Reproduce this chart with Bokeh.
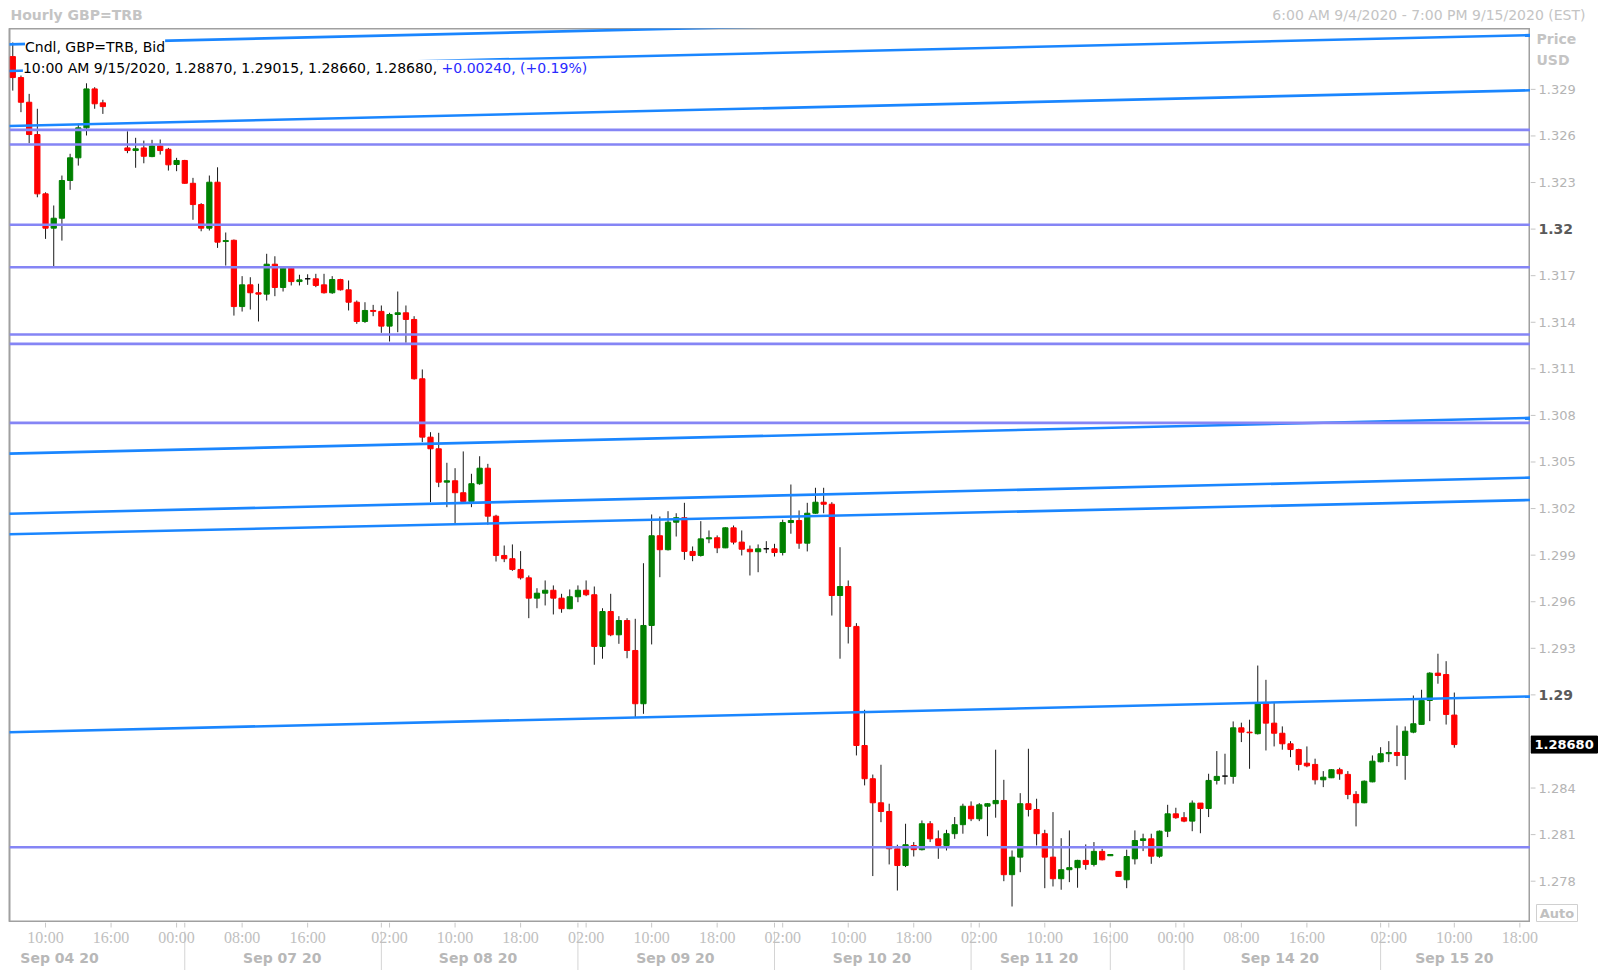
import numpy as np
from bokeh.plotting import figure
from bokeh.models import Range1d, Label, Span, ColumnDataSource
from bokeh.layouts import column, row
from bokeh.core.properties import value
from bokeh.embed import file_html
from bokeh.resources import INLINE

nan = float("nan")

# ---------------- hourly GBP=TRB candles (one entry per time slot; nan = empty slot) ----
opens = [1.33111, 1.32976, 1.32817, 1.32609, 1.32227, 1.32006, 1.32070, 1.32313, 1.32459, 1.32652,
         1.32903, 1.32813, nan, nan,
         1.32523, 1.32506, 1.32523, 1.32467, 1.32536, 1.32514, 1.32416, 1.32442, 1.32295, 1.32158,
         1.32006, 1.32302, 1.31920, 1.31928, 1.31501, 1.31641, 1.31590, 1.31581, 1.31774, 1.31624,
         1.31748, 1.31662, 1.31680, 1.31680, 1.31641, 1.31590, 1.31675, 1.31609, 1.31529, 1.31405,
         1.31476, 1.31470, 1.31375, 1.31450, 1.31461, 1.31418, 1.31036, 1.30660, 1.30585, 1.30370,
         1.30379, 1.30302, 1.30246, 1.30360, 1.30460, 1.30151, 1.29898, 1.29877, 1.29808, 1.29754,
         1.29623, 1.29655, 1.29674, 1.29623, 1.29555, 1.29632, 1.29674, 1.29645, 1.29312, 1.29537,
         1.29387, 1.29479, 1.29286, 1.28943, 1.29447, 1.30025, 1.29935, 1.30112, 1.30141, 1.29924,
         1.29898, 1.30005, 1.30012, 1.29947, 1.30076, 1.29984, 1.29938, 1.29922, 1.29941, 1.29941,
         1.29917, 1.30110, 1.30123, 1.29977, 1.30170, 1.30241, 1.30228, 1.29640, 1.29698, 1.29441,
         1.28674, 1.28460, 1.28305, 1.28249, 1.28009, 1.27901, 1.28030, 1.28003, 1.28170, 1.28073,
         1.28030, 1.28106, 1.28164, 1.28283, 1.28202, 1.28283, 1.28299, 1.28320, 1.27842, 1.27955,
         1.28299, 1.28262, 1.28106, 1.27955, 1.27816, 1.27874, 1.27887, 1.27934, 1.27908, 1.27992,
         1.27964, 1.27863, 1.27809, 1.27944, 1.28062, 1.28073, 1.27961, 1.28122, 1.28234, 1.28209,
         1.28187, 1.28303, 1.28268, 1.28449, 1.28477, 1.28475, 1.28788, 1.28760, 1.28750, 1.28943,
         1.28818, 1.28753, 1.28685, 1.28648, 1.28560, 1.28552, 1.28453, 1.28466, 1.28518, 1.28488,
         1.28359, 1.28305, 1.28440, 1.28569, 1.28621, 1.28629, 1.28610, 1.28760, 1.28810, 1.28964,
         1.29140, 1.29131, 1.28870]
highs = [1.33202, 1.32989, 1.32871, 1.32775, 1.32237, 1.32152, 1.32345, 1.32485, 1.32678, 1.32939,
         1.32914, 1.32833, nan, nan,
         1.32630, 1.32588, 1.32570, 1.32575, 1.32577, 1.32523, 1.32459, 1.32446, 1.32330, 1.32167,
         1.32345, 1.32398, 1.31978, 1.31933, 1.31697, 1.31690, 1.31648, 1.31841, 1.31825, 1.31761,
         1.31753, 1.31706, 1.31709, 1.31712, 1.31712, 1.31697, 1.31680, 1.31669, 1.31540, 1.31529,
         1.31512, 1.31508, 1.31461, 1.31598, 1.31508, 1.31439, 1.31096, 1.30692, 1.30688, 1.30495,
         1.30460, 1.30568, 1.30424, 1.30537, 1.30488, 1.30160, 1.29962, 1.29969, 1.29926, 1.29769,
         1.29687, 1.29737, 1.29705, 1.29651, 1.29679, 1.29705, 1.29737, 1.29698, 1.29558, 1.29651,
         1.29507, 1.29494, 1.29490, 1.29848, 1.30162, 1.30149, 1.30183, 1.30170, 1.30237, 1.29956,
         1.30119, 1.30059, 1.30027, 1.30080, 1.30091, 1.30059, 1.29962, 1.29969, 1.29990, 1.29973,
         1.30128, 1.30355, 1.30188, 1.30237, 1.30334, 1.30334, 1.30241, 1.29951, 1.29737, 1.29462,
         1.28904, 1.28487, 1.28550, 1.28299, 1.28035, 1.28170, 1.28052, 1.28191, 1.28187, 1.28127,
         1.28131, 1.28213, 1.28299, 1.28314, 1.28303, 1.28303, 1.28647, 1.28453, 1.27998, 1.28367,
         1.28653, 1.28331, 1.28131, 1.28245, 1.28077, 1.28127, 1.27938, 1.28037, 1.28052, 1.28009,
         1.27972, 1.27863, 1.28003, 1.28127, 1.28106, 1.28106, 1.28127, 1.28292, 1.28273, 1.28245,
         1.28320, 1.28303, 1.28492, 1.28638, 1.28621, 1.28829, 1.28821, 1.28840, 1.29189, 1.29097,
         1.28947, 1.28797, 1.28702, 1.28653, 1.28668, 1.28589, 1.28509, 1.28522, 1.28531, 1.28509,
         1.28380, 1.28449, 1.28610, 1.28663, 1.28702, 1.28803, 1.28797, 1.28996, 1.29033, 1.29146,
         1.29265, 1.29217, 1.29015]
lows = [1.32892, 1.32753, 1.32553, 1.32205, 1.31937, 1.31759, 1.31926, 1.32253, 1.32409, 1.32603,
        1.32775, 1.32742, nan, nan,
        1.32489, 1.32395, 1.32424, 1.32463, 1.32480, 1.32377, 1.32373, 1.32292, 1.32060, 1.31986,
        1.31991, 1.31879, 1.31765, 1.31443, 1.31469, 1.31482, 1.31405, 1.31540, 1.31568, 1.31598,
        1.31637, 1.31637, 1.31641, 1.31626, 1.31585, 1.31583, 1.31604, 1.31476, 1.31390, 1.31396,
        1.31439, 1.31332, 1.31276, 1.31336, 1.31268, 1.31031, 1.30628, 1.30241, 1.30338, 1.30209,
        1.30096, 1.30241, 1.30209, 1.30353, 1.30096, 1.29859, 1.29855, 1.29799, 1.29743, 1.29494,
        1.29558, 1.29576, 1.29518, 1.29529, 1.29552, 1.29597, 1.29636, 1.29194, 1.29233, 1.29378,
        1.29329, 1.29236, 1.28857, 1.28878, 1.29325, 1.29758, 1.29930, 1.30020, 1.29870, 1.29861,
        1.29891, 1.29977, 1.29913, 1.29945, 1.29969, 1.29898, 1.29769, 1.29790, 1.29913, 1.29891,
        1.29898, 1.30038, 1.29941, 1.29924, 1.30166, 1.30170, 1.29511, 1.29233, 1.29331, 1.28610,
        1.28417, 1.27833, 1.28180, 1.27908, 1.27740, 1.27891, 1.27959, 1.27998, 1.28052, 1.27944,
        1.27998, 1.28073, 1.28106, 1.28187, 1.28187, 1.28090, 1.28209, 1.27800, 1.27637, 1.27858,
        1.28217, 1.28030, 1.27755, 1.27766, 1.27745, 1.27794, 1.27758, 1.27874, 1.27895, 1.27934,
        1.27964, 1.27831, 1.27755, 1.27908, 1.27994, 1.27912, 1.27951, 1.28084, 1.28202, 1.28180,
        1.28122, 1.28109, 1.28213, 1.28423, 1.28423, 1.28428, 1.28696, 1.28524, 1.28745, 1.28642,
        1.28668, 1.28647, 1.28599, 1.28513, 1.28534, 1.28423, 1.28406, 1.28464, 1.28453, 1.28328,
        1.28153, 1.28302, 1.28437, 1.28565, 1.28567, 1.28541, 1.28453, 1.28753, 1.28808, 1.28831,
        1.29072, 1.28809, 1.28660]
closes = [1.32976, 1.32817, 1.32609, 1.32227, 1.32006, 1.32070, 1.32313, 1.32459, 1.32652, 1.32903,
          1.32807, 1.32789, nan, nan,
          1.32506, 1.32517, 1.32469, 1.32536, 1.32506, 1.32414, 1.32442, 1.32295, 1.32158, 1.32006,
          1.32302, 1.31916, 1.31926, 1.31501, 1.31641, 1.31590, 1.31581, 1.31774, 1.31624, 1.31748,
          1.31662, 1.31673, 1.31680, 1.31637, 1.31590, 1.31675, 1.31609, 1.31529, 1.31405, 1.31476,
          1.31470, 1.31375, 1.31450, 1.31461, 1.31418, 1.31036, 1.30660, 1.30585, 1.30370, 1.30379,
          1.30302, 1.30246, 1.30360, 1.30460, 1.30151, 1.29898, 1.29877, 1.29808, 1.29754, 1.29623,
          1.29655, 1.29674, 1.29623, 1.29555, 1.29632, 1.29674, 1.29645, 1.29312, 1.29537, 1.29387,
          1.29479, 1.29286, 1.28943, 1.29447, 1.30025, 1.29935, 1.30112, 1.30141, 1.29924, 1.29898,
          1.30005, 1.30012, 1.29947, 1.30076, 1.29984, 1.29938, 1.29922, 1.29941, 1.29941, 1.29917,
          1.30110, 1.30123, 1.29977, 1.30170, 1.30241, 1.30228, 1.29640, 1.29698, 1.29441, 1.28674,
          1.28460, 1.28305, 1.28249, 1.28009, 1.27901, 1.28035, 1.28003, 1.28170, 1.28073, 1.28030,
          1.28106, 1.28164, 1.28283, 1.28202, 1.28292, 1.28299, 1.28320, 1.27842, 1.27955, 1.28299,
          1.28262, 1.28106, 1.27955, 1.27816, 1.27874, 1.27887, 1.27934, 1.27908, 1.27992, 1.27938,
          1.27972, 1.27831, 1.27959, 1.28062, 1.28073, 1.27961, 1.28122, 1.28234, 1.28209, 1.28187,
          1.28303, 1.28268, 1.28449, 1.28475, 1.28477, 1.28788, 1.28760, 1.28756, 1.28943, 1.28818,
          1.28753, 1.28685, 1.28648, 1.28552, 1.28543, 1.28453, 1.28470, 1.28518, 1.28492, 1.28359,
          1.28305, 1.28444, 1.28573, 1.28621, 1.28629, 1.28610, 1.28766, 1.28814, 1.28964, 1.29140,
          1.29125, 1.28874, 1.28680]

# ---------------- drawn studies ----------------
trend_start_slot = [-1, -1, -1, -1, -1, -1, -1]
trend_start_price = [1.33189, 1.33018, 1.32663, 1.30553, 1.30166, 1.30034, 1.28759]
trend_end_slot = [186, 186, 186, 186, 186, 186, 186]
trend_end_price = [1.33421, 1.33250, 1.32895, 1.30785, 1.30400, 1.30256, 1.28991]
level_prices = [1.32639, 1.32545, 1.32028, 1.31754, 1.31321, 1.31261, 1.30752, 1.28019]

# ---------------- axes ----------------
price_ticks = [1.278, 1.281, 1.284, 1.287, 1.29, 1.293, 1.296, 1.299, 1.302, 1.305,
               1.308, 1.311, 1.314, 1.317, 1.32, 1.323, 1.326, 1.329]
bold_price_ticks = [1.32, 1.29]
time_tick_slots = [4, 12, 20, 28, 36, 46, 54, 62, 70, 78, 86, 94, 102, 110, 118, 126,
                   134, 142, 150, 158, 168, 176, 184]
time_tick_labels = ["10:00", "16:00", "00:00", "08:00", "16:00", "02:00", "10:00", "18:00",
                    "02:00", "10:00", "18:00", "02:00", "10:00", "18:00", "02:00", "10:00",
                    "16:00", "00:00", "08:00", "16:00", "02:00", "10:00", "18:00"]
day_label_slots = [5.7, 32.9, 56.8, 80.9, 104.9, 125.3, 154.7, 176]
day_labels = ["Sep 04 20", "Sep 07 20", "Sep 08 20", "Sep 09 20", "Sep 10 20",
              "Sep 11 20", "Sep 14 20", "Sep 15 20"]
day_separator_slots = [21, 45, 69, 93, 117, 134, 143, 167]

title_text = "Hourly GBP=TRB"
period_text = "6:00 AM 9/4/2020 - 7:00 PM 9/15/2020 (EST)"
legend_name = "Cndl, GBP=TRB, Bid"
last_time = "10:00 AM 9/15/2020"
last_change = "+0.00240, (+0.19%)"

X0, X1 = -0.4, 185.3
Y0, Y1 = 1.27534, 1.33292

UP, DOWN, FLAT = "#008000", "#ff0000", "#000000"
TREND = "#1a86ff"
LEVEL = "#8585f5"
GRAY_TXT = "#c0c0c0"

TOTAL_W, TOTAL_H = 1600, 970
HEAD_H, FOOT_H = 28, 48
LEFT_B, RIGHT_W = 9, 70
MAIN_W = TOTAL_W - RIGHT_W
MAIN_H = TOTAL_H - HEAD_H - FOOT_H
FRAME_W = MAIN_W - LEFT_B


def bare(fig):
    fig.grid.visible = False
    fig.background_fill_color = "white"
    fig.border_fill_color = "white"
    return fig


def mk(**kw):
    base = dict(output_backend="svg", toolbar_location=None, title=None,
                x_axis_location=None, y_axis_location=None,
                min_border_left=0, min_border_right=0, min_border_top=0, min_border_bottom=0)
    base.update(kw)
    return bare(figure(**base))


o = np.array(opens, float)
h = np.array(highs, float)
l = np.array(lows, float)
c = np.array(closes, float)
slots = np.arange(len(o), dtype=float)
colors = np.where(c > o, UP, np.where(c < o, DOWN, FLAT))
src = ColumnDataSource(dict(x=slots, high=h, low=l, top=np.maximum(o, c),
                            bottom=np.minimum(o, c), color=colors))
last = len(o) - 1

# ---------------- header ----------------
head = mk(width=TOTAL_W, height=HEAD_H, x_range=Range1d(0, TOTAL_W), y_range=Range1d(HEAD_H, 0))
head.outline_line_color = None
head.text(x=[10], y=[14], text=[title_text], text_align="left", text_baseline="middle",
          text_font=value("DejaVu Sans"), text_font_style="bold", text_font_size="14px",
          text_color="#c4c4c4")
head.text(x=[1585], y=[14], text=[period_text], text_align="right", text_baseline="middle",
          text_font=value("DejaVu Sans"), text_font_size="14px", text_color="#c4c4c4")

# ---------------- price pane ----------------
p = mk(width=MAIN_W, height=MAIN_H, x_range=Range1d(X0, X1), y_range=Range1d(Y0, Y1),
       min_border_left=LEFT_B)
p.outline_line_color = "#a0a0a0"
p.outline_line_width = 2

p.segment(x0="x", y0="high", x1="x", y1="low", line_color="#1a1a1a", line_width=1, source=src)
p.vbar(x="x", width=0.64, top="top", bottom="bottom", fill_color="color",
       line_color="color", line_width=1, source=src)
p.segment(x0=trend_start_slot, y0=trend_start_price, x1=trend_end_slot, y1=trend_end_price,
          line_color=TREND, line_width=2.6)
for lv in level_prices:
    p.add_layout(Span(location=lv, dimension="width", line_color=LEVEL, line_width=2.6))


def lab(**kw):
    base = dict(x=X0, y=Y1, text_font="DejaVu Sans", text_font_size="14px",
                text_baseline="middle", background_fill_color="white")
    base.update(kw)
    p.add_layout(Label(**base))


lab(x_offset=15.5, y_offset=-18, text=legend_name, text_color="#000000")
lab(x_offset=13.4, y_offset=-39.3,
    text="%s, %.5f, %.5f, %.5f, %.5f," % (last_time, o[last], h[last], l[last], c[last]),
    text_color="#000000")
lab(x_offset=427.6, y_offset=-39.3, text="\u00a0" + last_change, text_color="#2a2aff")

# ---------------- right price scale ----------------
rt = mk(width=RIGHT_W, height=MAIN_H, x_range=Range1d(0, RIGHT_W), y_range=p.y_range)
rt.outline_line_color = None
px = (Y1 - Y0) / MAIN_H          # price per screen pixel


def at(py):                      # price at a given pixel distance below the pane top
    return Y1 - py * px


regular = [t for t in price_ticks if t not in bold_price_ticks]
rt.segment(x0=0, y0=price_ticks, x1=5, y1=price_ticks, line_color="#c4c4c4", line_width=1)
rt.text(x=8, y=regular, text=["%.3f" % t for t in regular], text_align="left",
        text_baseline="middle", text_font=value("DejaVu Sans"), text_font_size="13px",
        text_color="#b4b4b4")
rt.text(x=8, y=bold_price_ticks, text=["%.2f" % t for t in bold_price_ticks], text_align="left",
        text_baseline="middle", text_font=value("DejaVu Sans"), text_font_style="bold",
        text_font_size="14px", text_color="#5a5a5a")
rt.text(x=6, y=[at(10), at(31)], text=["Price", "USD"], text_align="left",
        text_baseline="middle", text_font=value("DejaVu Sans"), text_font_style="bold",
        text_font_size="14px", text_color="#c4c4c4")
rt.quad(left=0.5, right=67, top=c[last] + 8.5 * px, bottom=c[last] - 8.5 * px,
        fill_color="black", line_color="black")
rt.text(x=4, y=[c[last]], text=["%.5f" % c[last]], text_align="left", text_baseline="middle",
        text_font=value("DejaVu Sans"), text_font_style="bold", text_font_size="13px",
        text_color="white")
rt.quad(left=6, right=47, top=at(876), bottom=at(893), fill_color="white",
        line_color="#d0d0d0", line_width=1)
rt.text(x=26.5, y=[at(884.5)], text=["Auto"], text_align="center", text_baseline="middle",
        text_font=value("DejaVu Sans"), text_font_style="bold", text_font_size="13px",
        text_color=GRAY_TXT)

# ---------------- time strip ----------------
pps = FRAME_W / (X1 - X0)
foot = mk(width=TOTAL_W, height=FOOT_H,
          x_range=Range1d(X0 - LEFT_B / pps, X0 + (TOTAL_W - LEFT_B) / pps),
          y_range=Range1d(FOOT_H, 0))
foot.outline_line_color = None
foot.segment(x0=time_tick_slots, y0=0, x1=time_tick_slots, y1=5, line_color="#c8c8c8", line_width=1)
foot.segment(x0=day_separator_slots, y0=0, x1=day_separator_slots, y1=5, line_color="#c8c8c8", line_width=1)
foot.segment(x0=day_separator_slots, y0=9, x1=day_separator_slots, y1=48, line_color="#d4d4d4", line_width=1)
foot.text(x=time_tick_slots, y=14.7, text=time_tick_labels, text_align="center", text_baseline="middle",
          text_font=value("Liberation Sans Narrow"), text_font_size="16px", text_color=GRAY_TXT)
foot.text(x=day_label_slots, y=35, text=day_labels, text_align="center", text_baseline="middle",
          text_font=value("DejaVu Sans"), text_font_style="bold", text_font_size="14px",
          text_color="#b8b8b8")

layout = column(head, row(p, rt, spacing=0), foot, spacing=0)
open("out.html", "w").write(file_html(layout, INLINE))
